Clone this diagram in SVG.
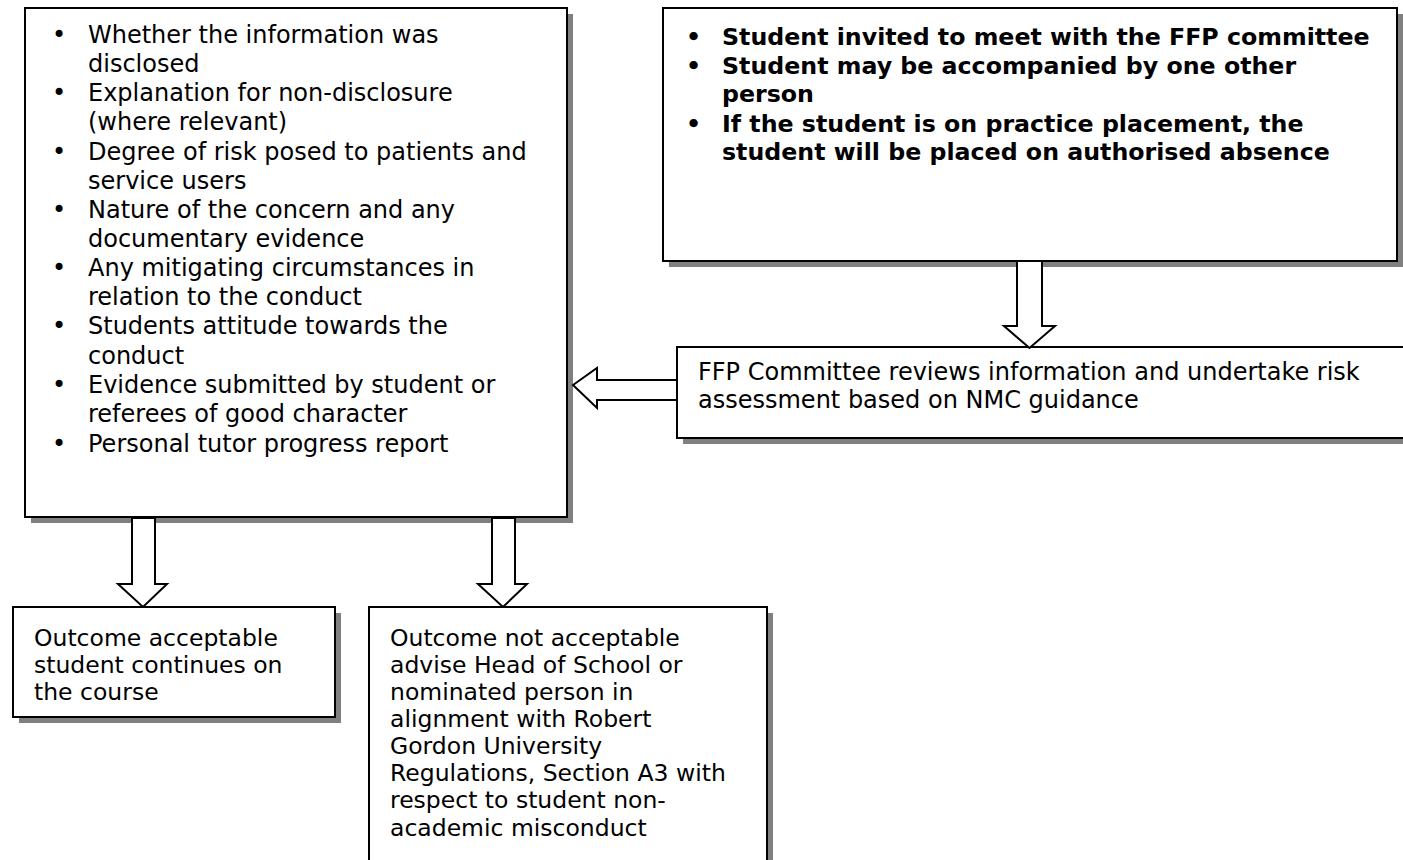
<svg xmlns="http://www.w3.org/2000/svg" width="1403" height="860" viewBox="0 0 1403 860">
<style>
.box{fill:#fff;stroke:#000;stroke-width:2}
.sh{fill:#808080}
.t{font-family:"DejaVu Sans",Verdana,sans-serif;font-size:24px;fill:#000}
.b{font-family:"DejaVu Sans",Verdana,sans-serif;font-size:23.7px;font-weight:bold;fill:#000}
.o{font-family:"DejaVu Sans",Verdana,sans-serif;font-size:23.5px;fill:#000}
.arr{fill:#fff;stroke:#000;stroke-width:2;stroke-linejoin:miter}
</style>
<rect width="1403" height="860" fill="#fff"/>
<g id="criteria">
<rect class="sh" x="31" y="14" width="542" height="509"/>
<rect class="box" x="25" y="8" width="542" height="509"/>
<g class="t">
<text x="52" y="43">•</text><text x="88" y="43">Whether the information was</text>
<text x="88" y="72">disclosed</text>
<text x="52" y="101">•</text><text x="88" y="101">Explanation for non-disclosure</text>
<text x="88" y="130">(where relevant)</text>
<text x="52" y="160">•</text><text x="88" y="160">Degree of risk posed to patients and</text>
<text x="88" y="189">service users</text>
<text x="52" y="218">•</text><text x="88" y="218">Nature of the concern and any</text>
<text x="88" y="247">documentary evidence</text>
<text x="52" y="276">•</text><text x="88" y="276">Any mitigating circumstances in</text>
<text x="88" y="305">relation to the conduct</text>
<text x="52" y="334">•</text><text x="88" y="334">Students attitude towards the</text>
<text x="88" y="364">conduct</text>
<text x="52" y="393">•</text><text x="88" y="393">Evidence submitted by student or</text>
<text x="88" y="422">referees of good character</text>
<text x="52" y="452">•</text><text x="88" y="452">Personal tutor progress report</text>
</g>
</g>
<g id="invite">
<rect class="sh" x="669" y="14" width="734" height="253"/>
<rect class="box" x="663" y="8" width="734" height="253"/>
<g class="b">
<text x="686" y="45">•</text><text x="722" y="45">Student invited to meet with the FFP committee</text>
<text x="686" y="74">•</text><text x="722" y="74">Student may be accompanied by one other</text>
<text x="722" y="102">person</text>
<text x="686" y="132">•</text><text x="722" y="132">If the student is on practice placement, the</text>
<text x="722" y="160">student will be placed on authorised absence</text>
</g>
</g>
<g id="review">
<rect class="sh" x="683" y="353" width="760" height="91"/>
<rect class="box" x="677" y="347" width="760" height="91"/>
<text class="t" x="698" y="380">FFP Committee reviews information and undertake risk</text>
<text class="t" x="698" y="408">assessment based on NMC guidance</text>
</g>
<g id="acceptable">
<rect class="sh" x="19" y="613" width="322" height="110"/>
<rect class="box" x="13" y="607" width="322" height="110"/>
<g class="o">
<text x="34" y="646">Outcome acceptable</text>
<text x="34" y="673">student continues on</text>
<text x="34" y="700">the course</text>
</g>
</g>
<g id="not-acceptable">
<rect class="sh" x="375" y="613" width="398" height="260"/>
<rect class="box" x="369" y="607" width="398" height="260"/>
<g class="o">
<text x="390" y="646">Outcome not acceptable</text>
<text x="390" y="673">advise Head of School or</text>
<text x="390" y="700">nominated person in</text>
<text x="390" y="727">alignment with Robert</text>
<text x="390" y="754">Gordon University</text>
<text x="390" y="781">Regulations, Section A3 with</text>
<text x="390" y="808">respect to student non-</text>
<text x="390" y="836">academic misconduct</text>
</g>
</g>
<g id="connectors">
<polygon class="arr" points="1017,261 1042,261 1042,326 1055,326 1029.5,348 1004,326 1017,326 1017,261"/>
<polygon class="arr" points="677,380 597,380 597,368 573,385 597,408 597,400 677,400"/>
<polygon class="arr" points="132,518 155,518 155,584 167,584 143,607 118,584 132,584 132,518"/>
<polygon class="arr" points="492,518 515,518 515,584 527,584 503,607 478,584 492,584 492,518"/>
</g>
</svg>
